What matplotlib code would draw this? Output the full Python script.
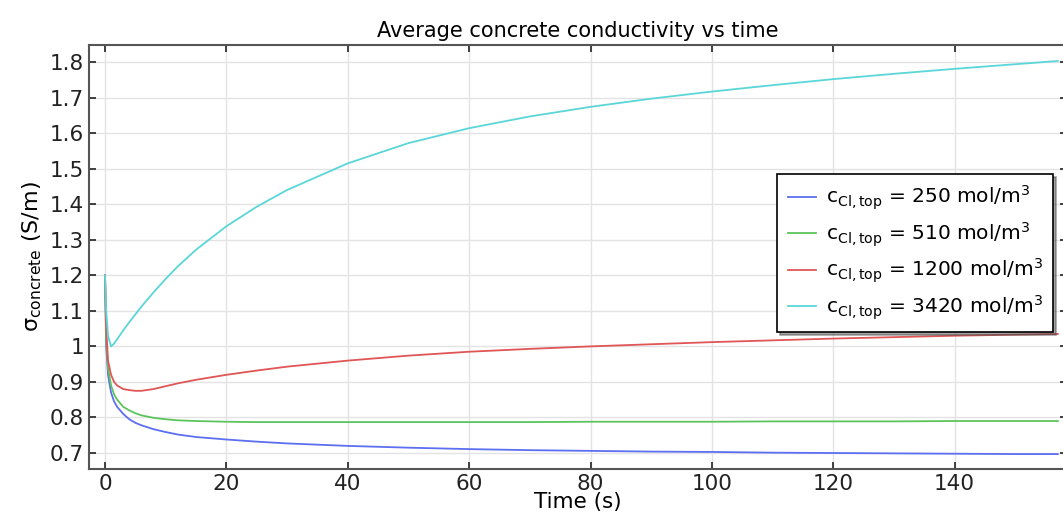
import matplotlib
matplotlib.use("Agg")
import matplotlib.pyplot as plt

# time samples (s)
t = [0, 0.2, 0.5, 1, 1.5, 2, 3, 4, 5, 6, 8, 10, 12, 15, 20, 25, 30, 40,
     50, 60, 70, 80, 90, 100, 110, 120, 130, 140, 150, 157]

sigma_250 = [1.2, 1.0, 0.92, 0.87, 0.845, 0.83, 0.81, 0.795, 0.785, 0.778,
             0.767, 0.759, 0.752, 0.745, 0.738, 0.732, 0.727, 0.72, 0.715,
             0.711, 0.708, 0.706, 0.704, 0.703, 0.701, 0.7, 0.699, 0.698,
             0.697, 0.697]
sigma_510 = [1.2, 1.02, 0.94, 0.89, 0.865, 0.85, 0.83, 0.82, 0.812, 0.806,
             0.799, 0.795, 0.792, 0.79, 0.788, 0.787, 0.787, 0.787, 0.787,
             0.787, 0.787, 0.788, 0.788, 0.788, 0.789, 0.789, 0.789, 0.79,
             0.79, 0.79]
sigma_1200 = [1.2, 1.05, 0.96, 0.92, 0.9, 0.89, 0.88, 0.877, 0.875, 0.875,
              0.88, 0.888, 0.896, 0.906, 0.92, 0.932, 0.943, 0.96, 0.974,
              0.985, 0.993, 1.0, 1.006, 1.012, 1.017, 1.022, 1.026, 1.03,
              1.033, 1.035]
sigma_3420 = [1.2, 1.1, 1.03, 1.0, 1.008, 1.02, 1.045, 1.068, 1.09, 1.112,
              1.152, 1.19, 1.225, 1.272, 1.338, 1.393, 1.44, 1.515, 1.572,
              1.614, 1.647, 1.674, 1.697, 1.717, 1.735, 1.752, 1.767, 1.781,
              1.794, 1.803]

labels = [r"c$_{\mathregular{Cl,top}}$ = 250 mol/m$^3$",
          r"c$_{\mathregular{Cl,top}}$ = 510 mol/m$^3$",
          r"c$_{\mathregular{Cl,top}}$ = 1200 mol/m$^3$",
          r"c$_{\mathregular{Cl,top}}$ = 3420 mol/m$^3$"]
colors = ["#5b6ff0", "#5cc45c", "#e05555", "#5ad6d8"]

fig = plt.figure(figsize=(10.63, 5.21), dpi=100)
ax = fig.add_axes([0.0837, 0.0998, 0.92, 0.8138])

for y, lab, c in zip([sigma_250, sigma_510, sigma_1200, sigma_3420], labels, colors):
    ax.plot(t, y, color=c, lw=1.3, label=lab)

ax.set_xlim(-2.64, 158.5)
ax.set_ylim(0.655, 1.848)
ax.set_xticks([0, 20, 40, 60, 80, 100, 120, 140])
ax.set_yticks([0.7, 0.8, 0.9, 1.0, 1.1, 1.2, 1.3, 1.4, 1.5, 1.6, 1.7, 1.8])
ax.set_yticklabels(["0.7", "0.8", "0.9", "1", "1.1", "1.2", "1.3", "1.4",
                    "1.5", "1.6", "1.7", "1.8"])
ax.grid(True, color="#e3e3e3", lw=1)
ax.tick_params(direction="in", top=True, right=True, labelsize=15.5,
               colors="#222222", length=5, width=1.2)
for s in ax.spines.values():
    s.set_color("#555555")
    s.set_linewidth(1.5)

ax.set_title("Average concrete conductivity vs time", fontsize=15, pad=6)
ax.set_xlabel("Time (s)", fontsize=15.5, labelpad=-1)
ax.set_ylabel(r"σ$_{\mathregular{concrete}}$ (S/m)", fontsize=16, labelpad=4)

leg = ax.legend(loc="upper left", bbox_to_anchor=(0.704, 0.696), borderaxespad=0,
                fontsize=14.5, frameon=True, fancybox=False, shadow=True,
                edgecolor="black", handlelength=1.4, handletextpad=0.5,
                borderpad=0.5, labelspacing=0.4)
leg.get_frame().set_linewidth(1.2)

fig.savefig("out.png", dpi=100)
